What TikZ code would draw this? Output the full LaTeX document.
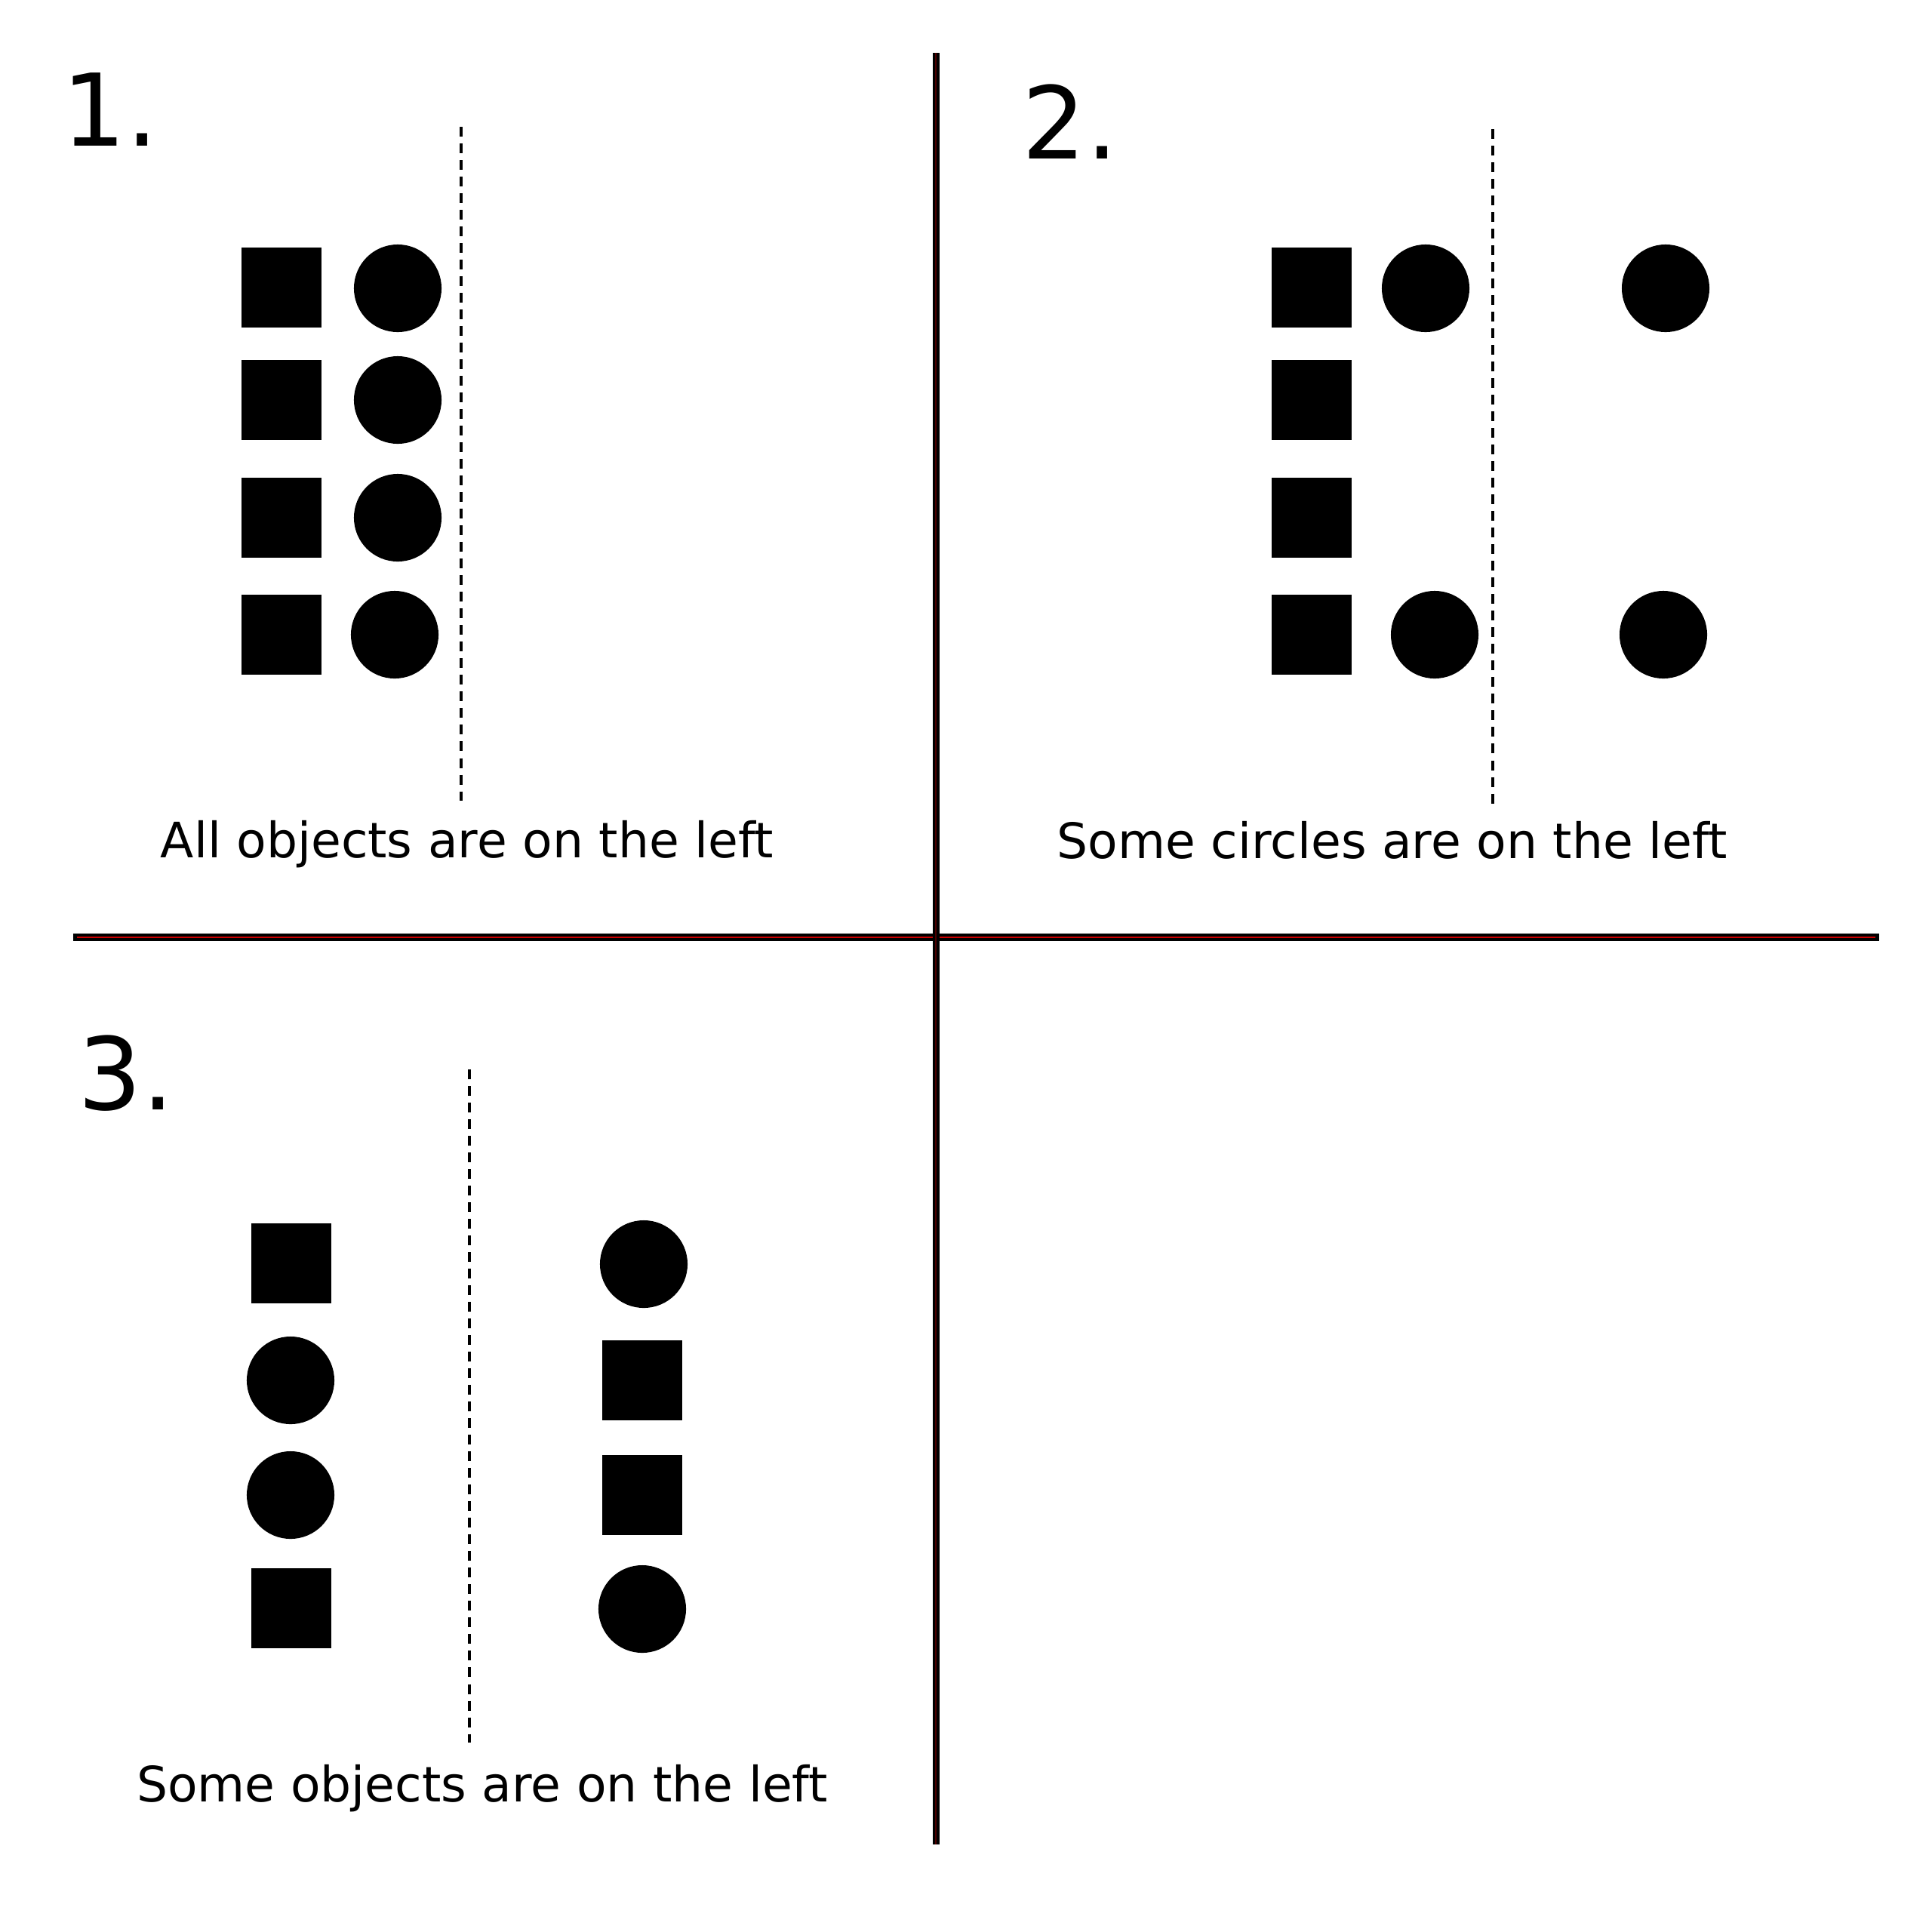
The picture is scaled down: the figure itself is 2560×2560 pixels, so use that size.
\documentclass[tikz,border=0pt]{standalone}
\usepackage{fontspec}
\setmainfont{DejaVu Sans}[Ligatures=NoCommon]
\begin{document}
\begin{tikzpicture}[x=0.01cm, y=-0.01cm,
    sq/.style={fill=black, minimum size=1.05cm, inner sep=0pt},
    crc/.style={circle, fill=black, minimum size=1.16cm, inner sep=0pt},
    sep/.style={dash pattern=on 0.13cm off 0.09cm, line width=0.04cm},
    caption/.style={anchor=base, inner sep=0pt, font=\fontsize{18.4}{22}\selectfont},
    num/.style={anchor=base west, inner sep=0pt, font=\fontsize{37.8}{45}\selectfont}]
    \useasboundingbox (0,0) rectangle (2560,2560);
    % dividing lines
    \coordinate (hl) at (97,1242);
    \coordinate (hr) at (2490,1242);
    \coordinate (vt) at (1240,70);
    \coordinate (vb) at (1240,2444);
    \draw[line width=0.1cm] (hl) -- (hr);
    \draw[red!80!black, line width=0.014cm] ([xshift=0.05cm]hl) -- ([xshift=-0.05cm]hr);
    \draw[line width=0.09cm] (vt) -- (vb);
    \draw[red!30!black, line width=0.02cm] (vt) -- (vb);
    % panel 1
    \node[num] (n1) at (82,193) {1.};
    \foreach \y [count=\i] in {381,530,686,841} {
        \node[sq] (a\i) at (373,\y) {};
    }
    \node[crc] (b1) at (527,382) {};
    \node[crc] (b2) at (527,530) {};
    \node[crc] (b3) at (527,686) {};
    \node[crc] (b4) at (523,841) {};
    \coordinate (s1t) at (611,168);
    \coordinate (s1b) at (611,1061);
    \draw[sep] (s1t) -- (s1b);
    \node[caption] (c1) at (619,1136) {All objects are on the left};
    % panel 2
    \node[num] (n2) at (1354,210) {2.};
    \foreach \y [count=\i] in {381,530,686,841} {
        \node[sq] (p\i) at (1738,\y) {};
    }
    \node[crc] (q1) at (1889,382) {};
    \node[crc] (q2) at (1901,841) {};
    \node[crc] (q3) at (2207,382) {};
    \node[crc] (q4) at (2204,841) {};
    \coordinate (s2t) at (1978,171);
    \coordinate (s2b) at (1978,1065);
    \draw[sep] (s2t) -- (s2b);
    \node[caption] (c2) at (1845,1137) {Some circles are on the left};
    % panel 3
    \node[num] (n3) at (103,1470) {3.};
    \node[sq] (l1) at (386,1674) {};
    \node[crc] (l2) at (385,1829) {};
    \node[crc] (l3) at (385,1981) {};
    \node[sq] (l4) at (386,2131) {};
    \node[crc] (r1) at (853,1675) {};
    \node[sq] (r2) at (851,1829) {};
    \node[sq] (r3) at (851,1981) {};
    \node[crc] (r4) at (851,2132) {};
    \coordinate (s3t) at (622,1417);
    \coordinate (s3b) at (622,2309);
    \draw[sep] (s3t) -- (s3b);
    \node[caption] (c3) at (639,2387) {Some objects are on the left};
\end{tikzpicture}
\end{document}
